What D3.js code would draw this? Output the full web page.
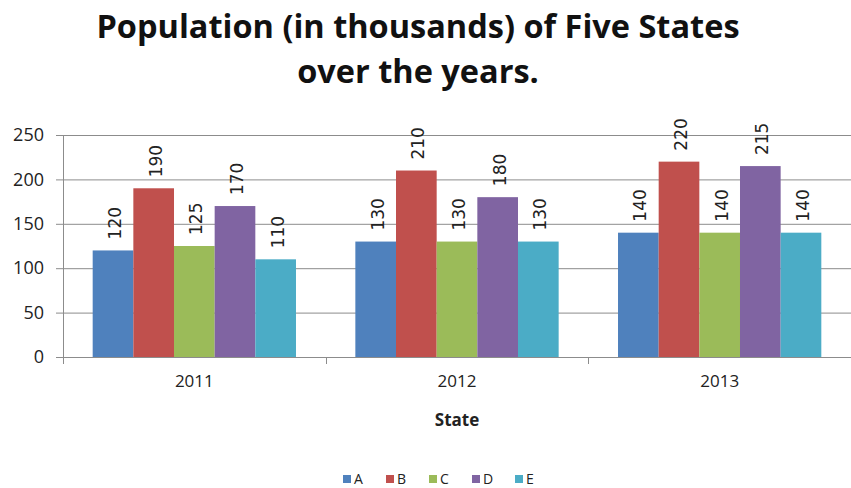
<!DOCTYPE html>
<html>
<head>
<meta charset="utf-8">
<script src="https://cdn.jsdelivr.net/npm/d3@7"></script>
<style>
  body { margin: 0; background: #fff; }
  svg { display: block; }
</style>
</head>
<body>
<div id="chart"></div>
<script>
// data
var years = ["2011", "2012", "2013"];
var states = ["A", "B", "C", "D", "E"];
var popA = [120, 130, 140];
var popB = [190, 210, 220];
var popC = [125, 130, 140];
var popD = [170, 180, 215];
var popE = [110, 130, 140];
var yTicks = [0, 50, 100, 150, 200, 250];
var colors = ["#4F81BD", "#C0504D", "#9BBB59", "#8064A2", "#4BACC6"];

var series = [popA, popB, popC, popD, popE];

var W = 851, H = 488;
var margin = { top: 135, right: 0, bottom: 131, left: 63 };
var width = W - margin.left - margin.right,
    height = H - margin.top - margin.bottom;

var svg = d3.select("#chart").append("svg")
    .attr("width", W)
    .attr("height", H);

// title
var title = svg.append("text")
    .attr("text-anchor", "middle")
    .style("font-family", "'Open Sans', sans-serif")
    .style("font-weight", "bold")
    .style("font-size", "32.5px")
    .style("fill", "#111");
title.append("tspan").attr("x", 418).attr("y", 38).text("Population (in thousands) of Five States");
title.append("tspan").attr("x", 418).attr("y", 83).text("over the years.");

var g = svg.append("g")
    .attr("transform", "translate(" + margin.left + "," + margin.top + ")");

var x0 = d3.scaleBand().domain(years).range([0, width]).padding(0);
var gap = x0.bandwidth() * 0.113;
var x1 = d3.scaleBand().domain(states).range([gap, x0.bandwidth() - gap]).padding(0);
var y = d3.scaleLinear().domain([0, 250]).range([height, 0]);

// gridlines
g.selectAll(".grid").data(yTicks.slice(1)).enter().append("line")
    .attr("class", "grid")
    .attr("x1", 0).attr("x2", width)
    .attr("y1", function(d) { return y(d) + 0.5; })
    .attr("y2", function(d) { return y(d) + 0.5; })
    .attr("stroke", "#8c8c8c")
    .attr("stroke-width", 1);

// bars
var groups = g.selectAll(".yr").data(years).enter().append("g")
    .attr("class", "yr")
    .attr("transform", function(d) { return "translate(" + x0(d) + ",0)"; });

groups.selectAll("rect")
    .data(function(d, i) { return states.map(function(s, j) { return { s: s, v: series[j][i], c: colors[j] }; }); })
    .enter().append("rect")
    .attr("x", function(d) { return x1(d.s); })
    .attr("width", x1.bandwidth())
    .attr("y", function(d) { return y(d.v); })
    .attr("height", function(d) { return height - y(d.v); })
    .attr("fill", function(d) { return d.c; });

// value labels (rotated)
groups.selectAll(".val")
    .data(function(d, i) { return states.map(function(s, j) { return { s: s, v: series[j][i] }; }); })
    .enter().append("text")
    .attr("class", "val")
    .attr("transform", function(d) {
        return "translate(" + (x1(d.s) + x1.bandwidth() / 2 + 8) + "," + (y(d.v) - 11) + ") rotate(-90)";
    })
    .style("font-family", "'DejaVu Sans', sans-serif")
    .style("font-size", "17px")
    .style("fill", "#222")
    .text(function(d) { return d.v; });

// y axis
var yAxis = g.append("g")
    .call(d3.axisLeft(y).tickValues(yTicks).tickSize(7).tickPadding(12));
yAxis.select(".domain").attr("stroke", "#8c8c8c").attr("d", "M0.5," + height + "V0");
yAxis.selectAll(".tick line").attr("stroke", "#8c8c8c");
yAxis.selectAll("text")
    .style("font-family", "'Open Sans', sans-serif")
    .style("font-size", "18px")
    .style("fill", "#222");

// x axis
var xAxis = g.append("g")
    .attr("transform", "translate(0," + height + ")")
    .call(d3.axisBottom(x0).tickSize(0).tickPadding(18));
xAxis.select(".domain").attr("stroke", "#8c8c8c").attr("d", "M0,0.5H" + width);
xAxis.selectAll("text")
    .style("font-family", "'Open Sans', sans-serif")
    .style("font-size", "17px")
    .style("fill", "#222");

// separators between year groups
var seps = years.map(function(d) { return x0(d); }).concat([width]);
xAxis.selectAll(".sep").data(seps).enter().append("line")
    .attr("class", "sep")
    .attr("x1", function(d) { return Math.round(d) + 0.5; })
    .attr("x2", function(d) { return Math.round(d) + 0.5; })
    .attr("y1", 0).attr("y2", 7)
    .attr("stroke", "#8c8c8c");

// axis title
svg.append("text")
    .attr("x", 457).attr("y", 426)
    .attr("text-anchor", "middle")
    .style("font-family", "'Open Sans', sans-serif")
    .style("font-weight", "bold")
    .style("font-size", "17px")
    .style("fill", "#222")
    .text("State");

// legend
var legend = svg.append("g").attr("transform", "translate(343,475)");
var item = legend.selectAll(".lg").data(states).enter().append("g")
    .attr("class", "lg")
    .attr("transform", function(d, i) { return "translate(" + i * 43 + ",0)"; });
item.append("rect")
    .attr("width", 8).attr("height", 8)
    .attr("fill", function(d, i) { return colors[i]; });
item.append("text")
    .attr("x", 11).attr("y", 8.5)
    .style("font-family", "'Open Sans', sans-serif")
    .style("font-size", "14px")
    .style("fill", "#222")
    .text(function(d) { return d; });
</script>
</body>
</html>
